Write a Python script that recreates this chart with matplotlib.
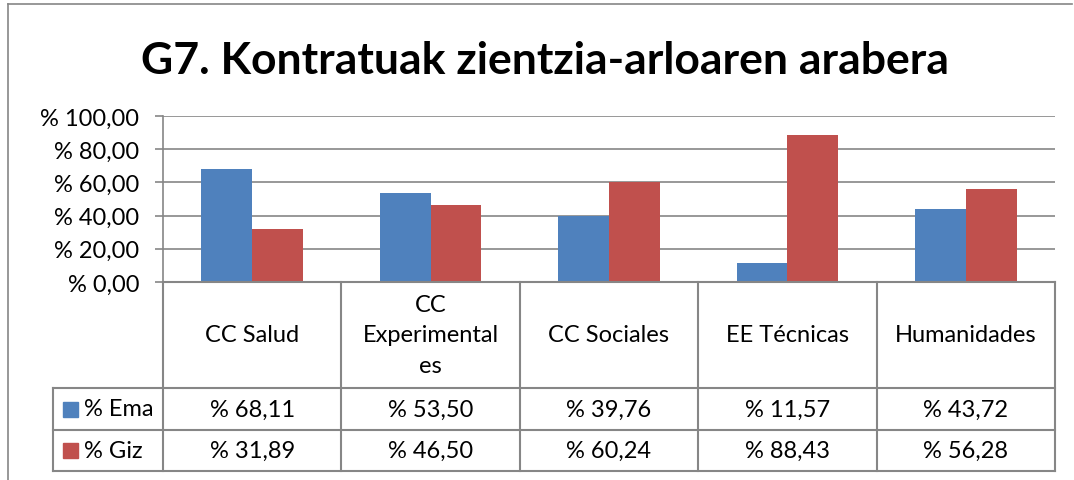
import matplotlib
matplotlib.use("Agg")
import matplotlib.pyplot as plt
from matplotlib.lines import Line2D
from matplotlib.patches import Rectangle

# data
categories = ["CC Salud", "CC\nExperimental\nes", "CC Sociales", "EE Técnicas", "Humanidades"]
series_names = ["% Ema", "% Giz"]
ema = [68.11, 53.50, 39.76, 11.57, 43.72]
giz = [31.89, 46.50, 60.24, 88.43, 56.28]
yticks = [0, 20, 40, 60, 80, 100]

BLUE = "#4F81BD"
RED = "#C0504D"
GRID = "#868686"
FONT = "Lato"
FS = 17

W, H = 1074, 481
fig = plt.figure(figsize=(W / 100, H / 100), dpi=100)
plt.rcParams["font.family"] = [FONT, "DejaVu Sans"]


def fx(px):
    return px / W


def fy(py):
    return 1 - py / H


# outer chart frame
fig.add_artist(Line2D([fx(8), fx(8)], [fy(5), fy(481)], color=GRID, lw=1.2))
fig.add_artist(Line2D([fx(8), fx(1072)], [fy(5), fy(5)], color=GRID, lw=1.2))

# title
fig.text(fx(545), fy(61), "G7. Kontratuak zientzia-arloaren arabera",
         ha="center", va="center", fontsize=32, fontweight="bold")

# ---------------------------
# bar plot
# ---------------------------
x_left, x_right = 163, 1055
y_top, y_zero, y_tab = 117, 283, 472
ax = fig.add_axes([fx(x_left), fy(y_zero), fx(x_right - x_left), (y_zero - y_top) / H])

n = len(categories)
bw = 0.285
xs = list(range(n))
ax.bar([x - bw / 2 for x in xs], ema, width=bw, color=BLUE, zorder=3)
ax.bar([x + bw / 2 for x in xs], giz, width=bw, color=RED, zorder=3)

ax.set_xlim(-0.5, n - 0.5)
ax.set_ylim(0, 100)
ax.set_yticks(yticks)
ax.set_yticklabels(["% {:.2f}".format(v).replace(".", ",") for v in yticks], fontsize=FS)
ax.set_xticks([])
ax.tick_params(axis="y", length=6, width=1.2, color=GRID, pad=11)
ax.yaxis.grid(True, color=GRID, lw=1.2, zorder=0)
for s in ["top", "right"]:
    ax.spines[s].set_visible(False)
for s in ["left", "bottom"]:
    ax.spines[s].set_color(GRID)
    ax.spines[s].set_linewidth(1.2)
ax.set_facecolor("none")

# ---------------------------
# data table below the chart
# ---------------------------
tab = fig.add_axes([fx(x_left), fy(y_tab), fx(x_right - x_left), (y_tab - y_zero) / H])
tab.set_xlim(-0.5, n - 0.5)
tab.set_ylim(y_tab - y_zero, 0)
tab.axis("off")

rows = [0, 106, 148, 189]
unit = (x_right - x_left) / n
head_left = -0.5 - (x_left - 53) / unit
lkw = dict(color=GRID, lw=1.5, clip_on=False)

# horizontal lines
tab.plot([-0.5, n - 0.5], [rows[0], rows[0]], **lkw)
for r in rows[1:]:
    tab.plot([head_left, n - 0.5], [r, r], **lkw)
# vertical lines
for i in range(n + 1):
    tab.plot([i - 0.5, i - 0.5], [rows[0], rows[3]], **lkw)
tab.plot([head_left, head_left], [rows[1], rows[3]], **lkw)

tkw = dict(ha="center", va="center", fontsize=FS)
for i, cat in enumerate(categories):
    tab.text(i, (rows[0] + rows[1]) / 2, cat, linespacing=1.55, **tkw)
for r, (name, vals, col) in enumerate(zip(series_names, [ema, giz], [BLUE, RED])):
    yc = (rows[r + 1] + rows[r + 2]) / 2
    for i, v in enumerate(vals):
        tab.text(i, yc, "% {:.2f}".format(v).replace(".", ","), **tkw)
    # legend key
    tab.add_patch(Rectangle((head_left + 10 / unit, yc - 7.5), 15 / unit, 15,
                            color=col, clip_on=False))
    tab.text(head_left + 31 / unit, yc, name, ha="left", va="center",
             fontsize=FS, clip_on=False)

fig.savefig("out.png", dpi=100)
